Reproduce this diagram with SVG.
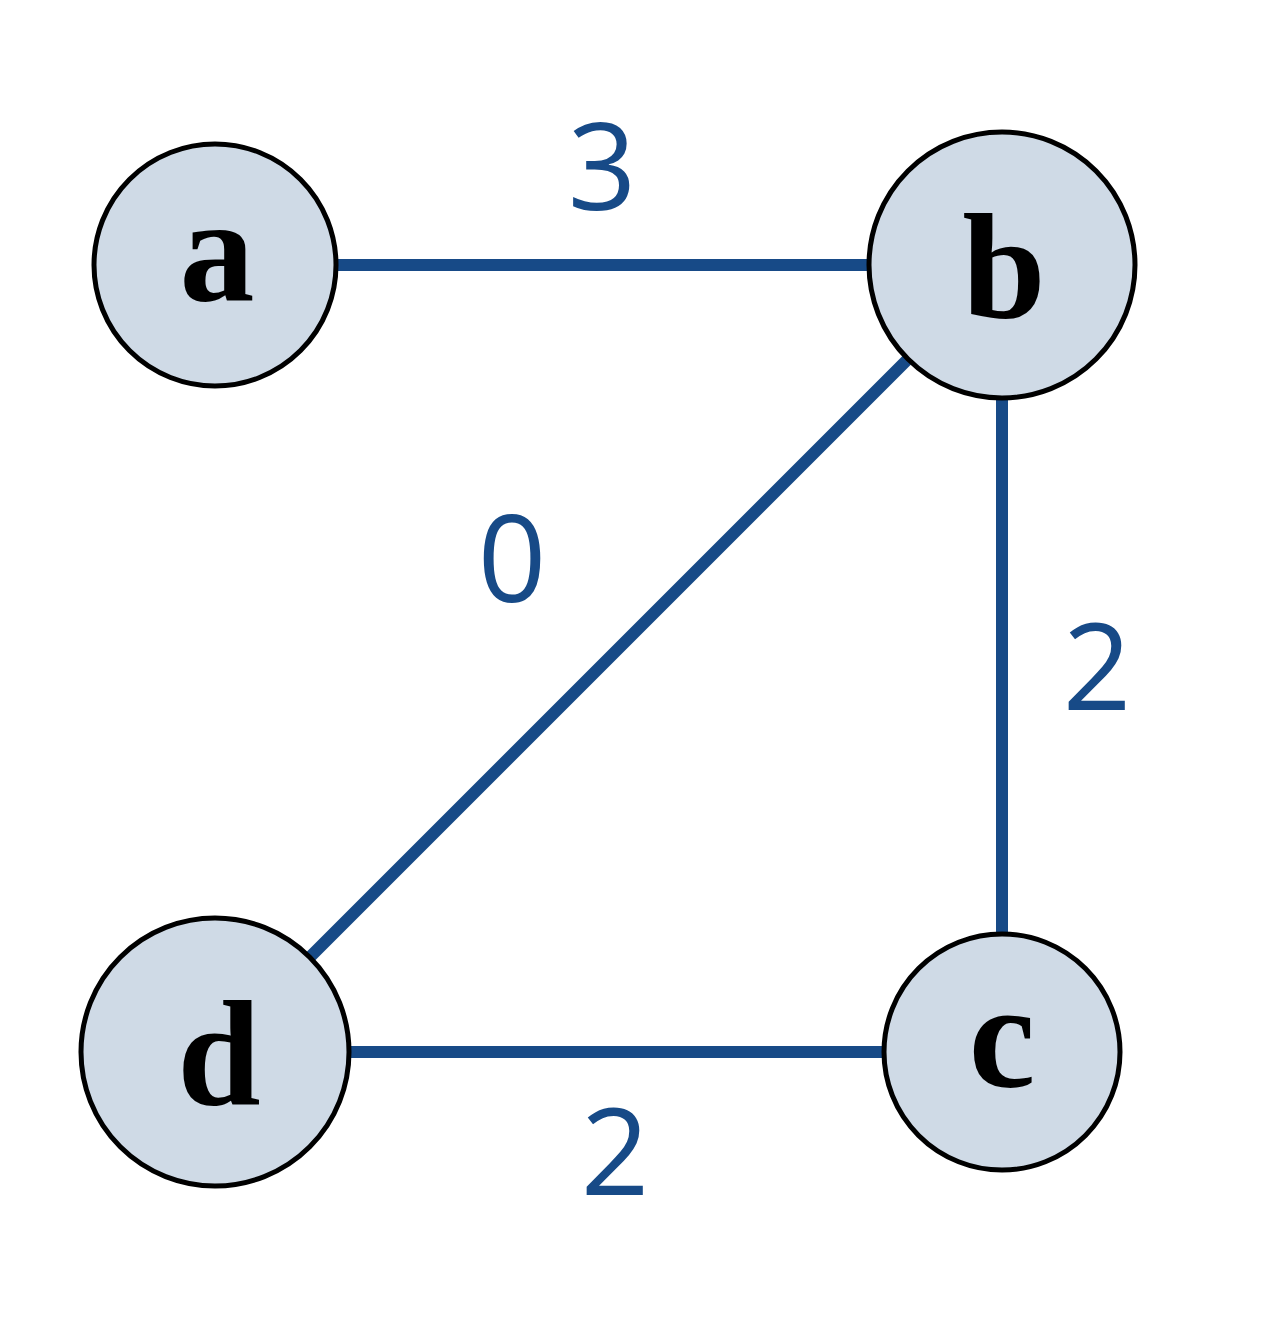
<svg xmlns="http://www.w3.org/2000/svg" width="1268" height="1318" viewBox="0 0 1268 1318">
<style>
.n{fill:#cfdae6;stroke:#000;stroke-width:5}
.e{stroke:#174a87;stroke-width:12;fill:none}
.l{font-family:"Open Sans","DejaVu Sans",sans-serif;font-size:120px;fill:#174a87;text-anchor:middle}
.t{font-family:"Liberation Serif",serif;font-size:150px;font-weight:bold;fill:#000;text-anchor:middle}
</style>
<rect width="1268" height="1318" fill="#fff"/>
<g id="connectors">
<line class="e" x1="215" y1="265" x2="1002" y2="265"/>
<line class="e" x1="1002" y1="265" x2="1002" y2="1052"/>
<line class="e" x1="215" y1="1052" x2="1002" y2="1052"/>
<line class="e" x1="215" y1="1052" x2="1002" y2="265"/>
<text class="l" x="602" y="210">3</text>
<text class="l" x="512" y="602">0</text>
<text class="l" x="1097" y="710">2</text>
<text class="l" x="615" y="1195">2</text>
</g>
<g id="a"><circle class="n" cx="215" cy="265" r="121"/><text class="t" x="217" y="300">a</text></g>
<g id="b"><circle class="n" cx="1002" cy="265" r="133"/><text class="t" x="1004" y="318">b</text></g>
<g id="c"><circle class="n" cx="1002" cy="1052" r="118"/><text class="t" x="1002" y="1087">c</text></g>
<g id="d"><circle class="n" cx="215" cy="1052" r="134"/><text class="t" x="219" y="1105">d</text></g>
</svg>
